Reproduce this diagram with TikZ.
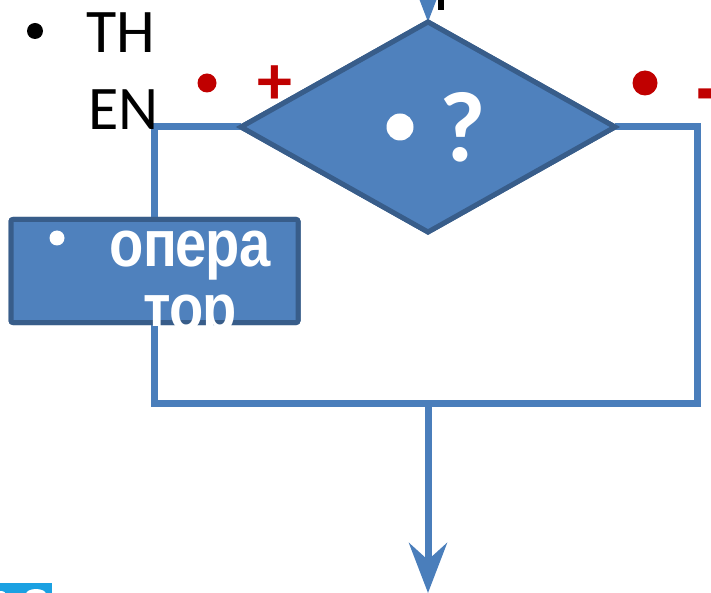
\documentclass[tikz,border=0pt]{standalone}
\usepackage{fontspec}
\setmainfont{Carlito}
\newfontfamily\cyrfont[LetterSpace=-2]{Liberation Sans}
\usetikzlibrary{shapes.geometric,arrows.meta}
\definecolor{boxfill}{HTML}{4F81BD}
\definecolor{boxline}{HTML}{385D8A}
\definecolor{conn}{HTML}{4A7EBB}
\definecolor{signred}{HTML}{C00000}
\definecolor{tile}{HTML}{1BA1E2}
\tikzset{
  connline/.style={draw=conn, line width=7pt, line join=miter},
  bigtip/.style={-{Stealth[length=50pt,width=38pt,inset=17pt]}},
  shapebox/.style={draw=boxline, fill=boxfill, line width=5pt, inner sep=0pt, outer sep=0pt},
  dot/.style={circle, inner sep=0pt, outer sep=0pt},
  plain/.style={inner sep=0pt, outer sep=0pt},
  cyrtext/.style={plain, anchor=base, text=white, font=\cyrfont\bfseries\fontsize{66}{66}\selectfont}
}
\begin{document}
\begin{tikzpicture}[x=1pt,y=-1pt]
\useasboundingbox (0,0) rectangle (711,593);
% coordinates
\coordinate (topstart) at (428,-60);
\coordinate (j) at (428,403);
\coordinate (r) at (697,403);
\coordinate (bot) at (428,593);
% shapes (placed first for anchors)
\node[shapebox, diamond, minimum width=374pt, minimum height=210pt] (dec) at (428,127) {};
\node[shapebox, rectangle, rounded corners=2pt, minimum width=287pt, minimum height=103pt] (op) at (154.5,271) {};
% connectors
\draw[connline] (dec.west) -| (op.north);
\draw[connline] (op.south) |- (r) |- (dec.east);
\draw[connline, bigtip] (j) -- (bot);
\draw[connline, bigtip] (topstart) -- (dec.north);
% redraw shapes on top of connectors
\node[shapebox, diamond, minimum width=374pt, minimum height=210pt] (dec2) at (428,127) {};
\node[shapebox, rectangle, rounded corners=2pt, minimum width=287pt, minimum height=103pt] (op2) at (154.5,271) {};
% cut-off black mark at top
\fill[black] (438,0) rectangle (444,10);
% left bullet text
\node[dot, fill=black, minimum size=16pt] (b1) at (35,31) {};
\node[plain, anchor=base west, font=\fontsize{62}{62}\selectfont] (th) at (86,53) {TH};
\node[plain, anchor=base west, font=\fontsize{62}{62}\selectfont] (en) at (88,130) {EN};
% red signs
\node[dot, fill=signred, minimum size=19pt] (rd1) at (207,83) {};
\node[plain, text=signred, font=\bfseries\fontsize{70}{70}\selectfont] (plus) at (275,85) {+};
\node[dot, fill=signred, minimum size=25pt] (rd2) at (645,83) {};
\node[plain, anchor=west, text=signred, font=\bfseries\fontsize{115}{115}\selectfont] (minus) at (690,108) {–};
% diamond text
\node[dot, fill=white, minimum size=27pt] (db) at (400,127) {};
\node[plain, anchor=base, text=white, font=\bfseries\fontsize{100}{100}\selectfont] (q) at (463,162) {?};
% box text (clipped to the box)
\node[dot, fill=white, minimum size=15pt] (ob) at (57,238) {};
\begin{scope}
\clip (8,215) rectangle (301,325.5);
\node[cyrtext] (t1) at (190,267) {\scalebox{0.85}[1]{опера}};
\node[cyrtext] (t2) at (190,330) {\scalebox{0.85}[1]{тор}};
\end{scope}
% cut-off tile at bottom left
\fill[tile] (0,583) rectangle (52,593);
\fill[white] (36,594) ellipse (10pt and 5pt);
\fill[white] (0,594) ellipse (6pt and 3pt);
\end{tikzpicture}
\end{document}
